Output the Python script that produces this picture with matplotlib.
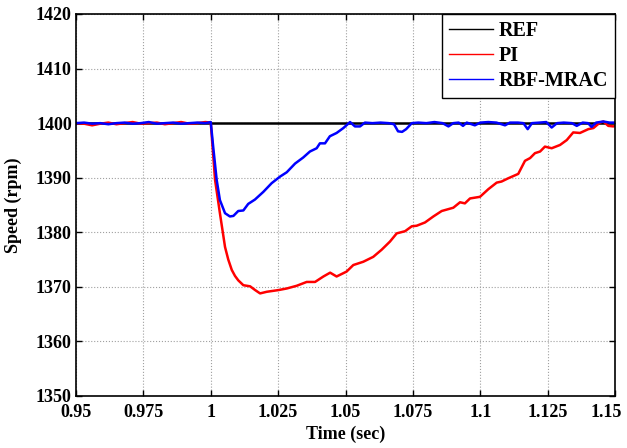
import matplotlib
matplotlib.use('Agg')
import matplotlib.pyplot as plt
from matplotlib.transforms import ScaledTranslation

# speed response around the load step at t = 1 s
t_ref = [0.95, 1.15]
speed_ref = [1400.0, 1400.0]

t_pi = [0.950, 0.953, 0.956, 0.959, 0.962, 0.965, 0.968, 0.971, 0.974, 0.977,
        0.980, 0.983, 0.986, 0.989, 0.992, 0.995, 0.998, 1.000, 1.0016, 1.0034,
        1.0053, 1.0065, 1.0078, 1.0090, 1.0102, 1.0121, 1.0146, 1.0165, 1.0183, 1.0208,
        1.0250, 1.0282, 1.0319, 1.0356, 1.0387, 1.0418, 1.0443, 1.0467, 1.0504, 1.0529,
        1.0566, 1.0603, 1.0634, 1.0665, 1.0690, 1.0721, 1.0746, 1.0764, 1.0795, 1.0826,
        1.0857, 1.0900, 1.0925, 1.0943, 1.0962, 1.0999, 1.1030, 1.1061, 1.1079, 1.1104,
        1.1141, 1.1166, 1.1185, 1.1203, 1.1222, 1.1240, 1.1265, 1.1296, 1.1321, 1.1345,
        1.1370, 1.1401, 1.1420, 1.1444, 1.1457, 1.1475, 1.1494, 1.1500]
speed_pi = [1400.0, 1399.9, 1399.6, 1399.9, 1400.1, 1399.8, 1400.0, 1400.2, 1399.9, 1400.0,
            1400.1, 1399.8, 1400.0, 1400.2, 1399.9, 1400.0, 1400.2, 1400.1, 1389.6, 1383.5,
            1377.3, 1375.0, 1373.1, 1372.0, 1371.2, 1370.3, 1370.1, 1369.4, 1368.8, 1369.1,
            1369.4, 1369.7, 1370.2, 1370.9, 1370.9, 1371.9, 1372.6, 1371.9, 1372.8, 1374.0,
            1374.6, 1375.5, 1376.8, 1378.3, 1379.8, 1380.2, 1381.1, 1381.2, 1381.8, 1382.9,
            1383.9, 1384.5, 1385.5, 1385.3, 1386.2, 1386.5, 1387.9, 1389.1, 1389.3, 1389.9,
            1390.7, 1393.1, 1393.6, 1394.5, 1394.8, 1395.7, 1395.4, 1396.0, 1396.9, 1398.3,
            1398.2, 1398.9, 1399.1, 1400.1, 1400.3, 1399.5, 1399.4, 1399.5]

t_mrac = [0.950, 0.953, 0.956, 0.959, 0.962, 0.965, 0.968, 0.971, 0.974, 0.977,
          0.980, 0.983, 0.986, 0.989, 0.992, 0.995, 0.998, 1.000, 1.0009, 1.0022,
          1.0034, 1.0053, 1.0071, 1.0084, 1.0102, 1.0121, 1.0139, 1.0164, 1.0195, 1.0226,
          1.0257, 1.0282, 1.0313, 1.0343, 1.0368, 1.0393, 1.0405, 1.0424, 1.0442, 1.0467,
          1.0492, 1.0517, 1.0535, 1.0554, 1.0572, 1.0600, 1.0630, 1.0660, 1.0680, 1.0695,
          1.0710, 1.0725, 1.0746, 1.0770, 1.0800, 1.0830, 1.0860, 1.0882, 1.0900, 1.0920,
          1.0936, 1.0950, 1.0980, 1.1000, 1.1030, 1.1060, 1.1092, 1.1110, 1.1140, 1.1160,
          1.1176, 1.1192, 1.1220, 1.1245, 1.1265, 1.1285, 1.1310, 1.1340, 1.1358, 1.1380,
          1.1400, 1.1413, 1.1430, 1.1457, 1.1480, 1.1500]
speed_mrac = [1400.0, 1400.1, 1399.9, 1400.0, 1399.8, 1400.0, 1400.1, 1399.9, 1400.0, 1400.2,
              1399.9, 1400.0, 1400.1, 1399.9, 1400.0, 1400.1, 1400.0, 1400.2, 1395.7, 1389.6,
              1385.9, 1383.5, 1382.9, 1383.0, 1383.9, 1384.0, 1385.2, 1386.0, 1387.4, 1389.0,
              1390.2, 1391.0, 1392.6, 1393.7, 1394.8, 1395.4, 1396.3, 1396.3, 1397.6, 1398.2,
              1399.1, 1400.2, 1399.4, 1399.4, 1400.1, 1400.0, 1400.1, 1400.0, 1399.8, 1398.5,
              1398.4, 1398.9, 1400.0, 1400.1, 1400.0, 1400.2, 1400.0, 1399.4, 1400.0, 1400.1,
              1399.5, 1400.1, 1399.6, 1400.1, 1400.2, 1400.1, 1399.6, 1400.1, 1400.1, 1400.0,
              1398.9, 1400.0, 1400.1, 1400.2, 1399.2, 1400.0, 1400.1, 1400.0, 1399.5, 1400.1,
              1400.0, 1399.3, 1400.1, 1400.3, 1400.1, 1400.1]

x_ticks = [0.95, 0.975, 1.0, 1.025, 1.05, 1.075, 1.1, 1.125, 1.15]
x_tick_labels = ['0.95', '0.975', '1', '1.025', '1.05', '1.075', '1.1', '1.125', '1.15']
y_ticks = [1350, 1360, 1370, 1380, 1390, 1400, 1410, 1420]

plt.rcParams['font.family'] = ['Liberation Serif', 'DejaVu Serif']
plt.rcParams['font.weight'] = 'bold'
plt.rcParams['font.size'] = 13

fig = plt.figure(figsize=(6.27, 4.48), dpi=100)
ax = fig.add_axes([76 / 627, 52 / 448, 539 / 627, 382 / 448])

ax.plot(t_ref, speed_ref, color='black', lw=1.8, label='REF')
ax.plot(t_pi, speed_pi, color='#ff0000', lw=1.8, label='PI')
ax.plot(t_mrac, speed_mrac, color='#0000ff', lw=1.8, label='RBF-MRAC')

ax.set_xlim(0.95, 1.15)
ax.set_ylim(1350, 1420)
ax.set_xticks(x_ticks, labels=x_tick_labels)
ax.set_yticks(y_ticks)
ax.tick_params(direction='in', length=4, width=1, top=True, right=True)
ax.tick_params(axis='x', pad=6)
ax.tick_params(axis='y', pad=3)
for s in ax.spines.values():
    s.set_linewidth(1.2)
ax.grid(True, color='#a0a0a0', linestyle=':', linewidth=0.8)

# keep the last x label inside the figure
last = ax.get_xticklabels()[-1]
last.set_transform(last.get_transform() + ScaledTranslation(-9 / 100, 0, fig.dpi_scale_trans))

ax.set_xlabel('Time (sec)', fontweight='bold', labelpad=3)
ax.set_ylabel('Speed (rpm)', fontweight='bold', labelpad=10)

leg = ax.legend(loc='upper right', borderaxespad=0, fancybox=False, framealpha=1,
                edgecolor='black', handlelength=2.2, handletextpad=0.25,
                labelspacing=0.25, borderpad=0.35, fontsize=14.5)
leg.get_frame().set_linewidth(1.0)
for line in leg.get_lines():
    line.set_linewidth(1.0)

fig.savefig('out.png', dpi=100)
